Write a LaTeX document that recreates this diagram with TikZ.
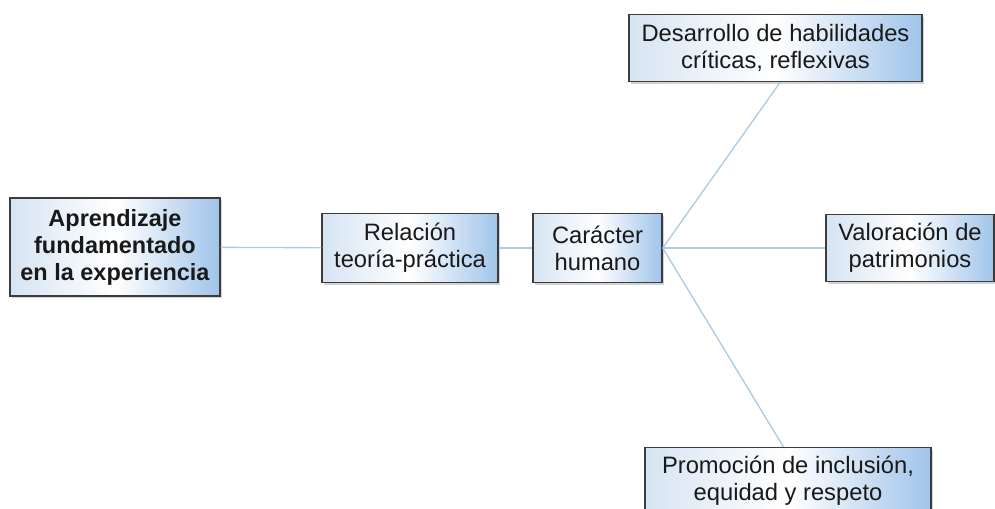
\documentclass[tikz,border=0pt]{standalone}
\usepackage{fontspec}
\setmainfont{Liberation Sans}
\usetikzlibrary{shadows}
\definecolor{boxleft}{RGB}{214,228,242}
\definecolor{boxright}{RGB}{160,196,234}
\definecolor{linkblue}{RGB}{172,202,228}
\definecolor{boxrule}{RGB}{60,60,60}
\begin{document}
\begin{tikzpicture}[x=0.75pt, y=-0.75pt,
        idea/.style={draw=boxrule, line width=1.1pt, left color=boxleft, right color=boxright, middle color=white,
            drop shadow={shadow xshift=1.5pt, shadow yshift=-1.5pt, opacity=0.35},
            align=center, inner sep=0pt, text=black!90,
            font=\fontsize{17.8pt}{20.3pt}\selectfont},
        link/.style={draw=linkblue, line width=1pt}]
                \useasboundingbox (0,0) rectangle (995,508);
                \node[idea, minimum width=210*0.75pt, minimum height=98*0.75pt, font=\fontsize{17.6pt}{20.3pt}\selectfont\bfseries] (aprend) at (115,247) {Aprendizaje\\fundamentado\\en la experiencia};
                \node[idea, minimum width=176*0.75pt, minimum height=69*0.75pt] (relacion) at (410,248) {Relación\\teoría-práctica};
                \node[idea, minimum width=129*0.75pt, minimum height=69*0.75pt] (caracter) at (597.5,248) {Carácter\\humano};
                \node[idea, minimum width=293*0.75pt, minimum height=67*0.75pt] (desarrollo) at (775.5,48) {Desarrollo de habilidades\\críticas, reflexivas};
                \node[idea, minimum width=168*0.75pt, minimum height=67*0.75pt] (valoracion) at (910,248) {Valoración de\\patrimonios};
                \node[idea, minimum width=286*0.75pt, minimum height=67*0.75pt] (promocion) at (788,481) {Promoción de inclusión,\\equidad y respeto};
                \draw[link] (aprend) -- (relacion);
                \draw[link] (relacion) -- (caracter);
                \draw[link] (caracter.east) -- ([xshift=3.5pt]desarrollo.south);
                \draw[link] (caracter.east) -- (valoracion.west);
                \draw[link] (caracter.east) -- ([xshift=-3.5pt]promocion.north);
            \end{tikzpicture}
\end{document}
